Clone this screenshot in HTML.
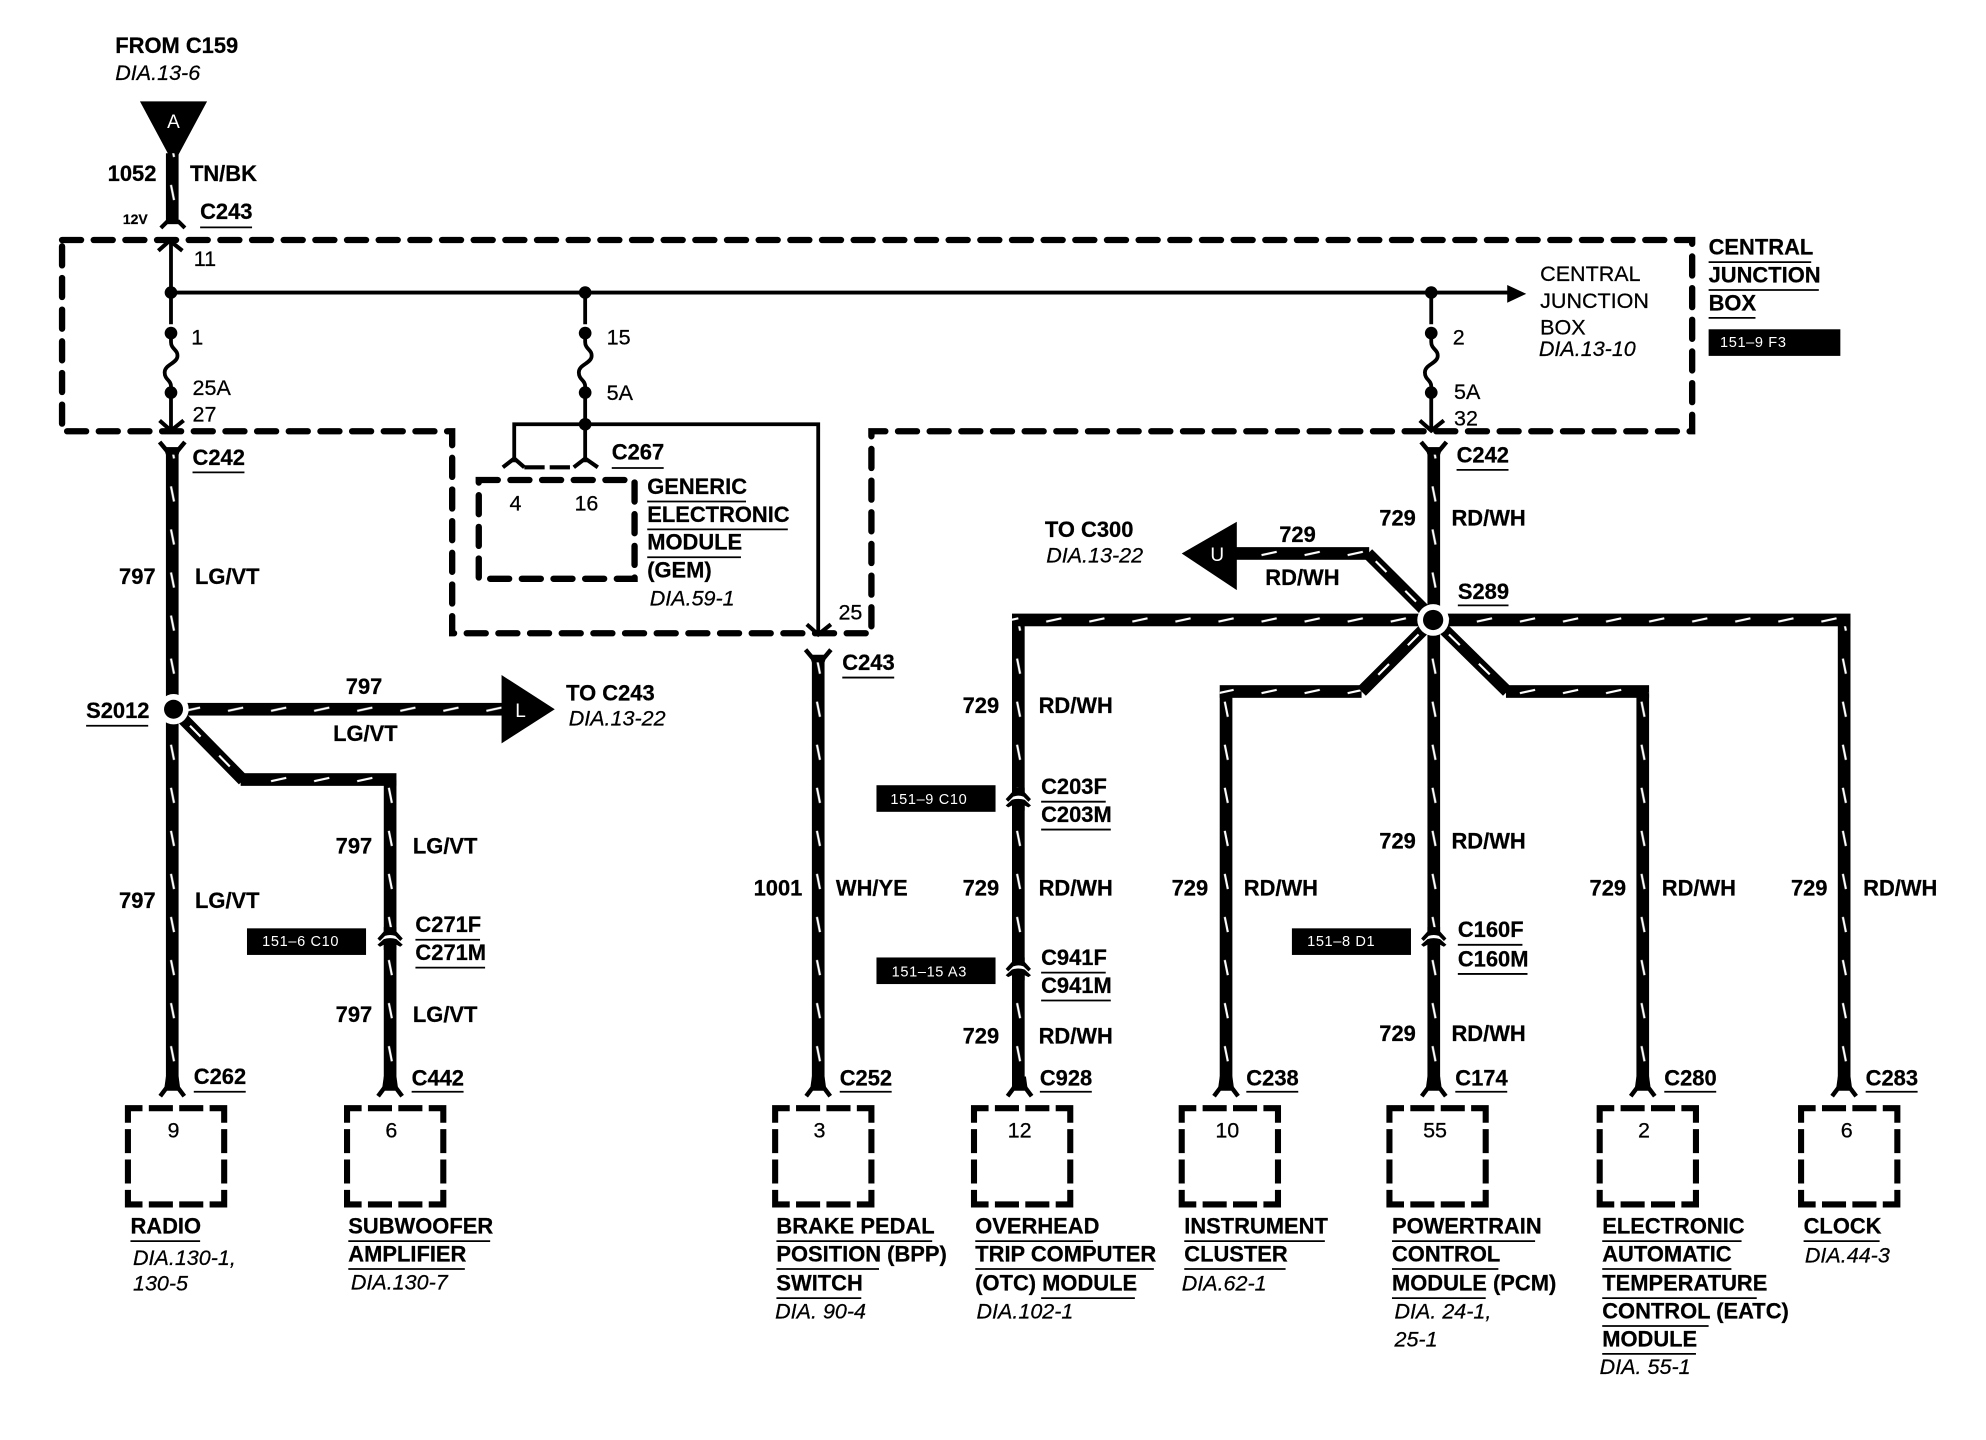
<!DOCTYPE html>
<html><head><meta charset="utf-8"><style>
html,body{margin:0;padding:0;background:#fff}
svg{display:block}
text{font-family:"Liberation Sans",sans-serif;font-size:17px;fill:#000;stroke:#000;stroke-width:.2}
text.b{font-weight:bold;font-size:17.3px}
text.i{font-style:italic}
text.t{fill:#fff;stroke:none;font-size:11.5px;letter-spacing:.5px}
text.w{fill:#fff;stroke:none;font-size:15px}
.d{fill:none;stroke:#000;stroke-width:5;stroke-dasharray:15 10;stroke-linecap:round;stroke-linejoin:miter}
.bx{fill:none;stroke:#000;stroke-width:4.8;stroke-dasharray:23 5 19 5 19 5;stroke-dashoffset:11.5}
.th{fill:none;stroke:#000;stroke-width:3}
.ul{stroke:#000;stroke-width:1.4}
.dg{fill:none;stroke:#000;stroke-width:9.5;stroke-linejoin:miter}
.dw{fill:none;stroke:#fff;stroke-width:1.7;stroke-dasharray:12 21}
</style></head><body>
<svg xmlns="http://www.w3.org/2000/svg" width="1986" height="1440" viewBox="0 0 1568 1137" preserveAspectRatio="none">
<defs>
<pattern id="v" patternUnits="userSpaceOnUse" x="-5" y="0" width="10" height="34">
<path d="M4,10 L6.4,22" stroke="#fff" stroke-width="1.7"/></pattern>
<pattern id="h" patternUnits="userSpaceOnUse" x="0" y="-5" width="34" height="10">
<path d="M10,6.300 L22,3.700" stroke="#fff" stroke-width="1.7"/></pattern>
<g id="vw">
<rect x="-5" y="121" width="10" height="56" transform="translate(136,0)"/>
<rect x="-5" y="355" width="10" height="505" transform="translate(136,0)"/>
<rect x="-5" y="616" width="10" height="244" transform="translate(308,0)"/>
<rect x="-5" y="518" width="10" height="342" transform="translate(646,0)"/>
<rect x="-5" y="489" width="10" height="371" transform="translate(804,0)"/>
<rect x="-5" y="546" width="10" height="314" transform="translate(968,0)"/>
<rect x="-5" y="355" width="10" height="505" transform="translate(1132,0)"/>
<rect x="-5" y="546" width="10" height="314" transform="translate(1297,0)"/>
<rect x="-5" y="489" width="10" height="371" transform="translate(1456,0)"/>
</g>
<g id="hw">
<rect x="137" y="-5" width="262" height="10" transform="translate(0,560)"/>
<rect x="190" y="-5" width="123" height="10" transform="translate(0,615.500)"/>
<rect x="799" y="-5" width="662" height="10" transform="translate(0,489.500)"/>
<rect x="976" y="-5" width="105" height="10" transform="translate(0,437)"/>
<rect x="963" y="-5" width="112" height="10" transform="translate(0,546)"/>
<rect x="1189" y="-5" width="113" height="10" transform="translate(0,546)"/>
</g>
<g id="fb"><path d="M-9.500,865.500 L-5,859.500 L5,859.500 L9.500,865.500" fill="none" stroke="#000" stroke-width="3.500"/><path d="M-5,850 L5,850 L6.500,861 L-6.500,861 Z" fill="#000"/></g>
<g id="ft"><path d="M-10,0 L-5,6 L5,6 L10,0" fill="none" stroke="#000" stroke-width="3.500"/><path d="M-5,10 L5,10 L7,4 L-7,4 Z" fill="#000"/></g>
<g id="cm"><rect x="-6" y="-2" width="12" height="4" fill="#fff"/>
<path d="M-5,-8 L-5,-4.500 L-10,1 L-8,3 L-4,-1 Q0,-2.500 4,-1 L8,3 L10,1 L5,-4.500 L5,-8 Z" fill="#000"/>
<path d="M-10,6 L-5,1.500 Q0,0 5,1.500 L10,6 L8,7.500 L5,6 L5,10 L-5,10 L-5,6 L-8,7.500 Z" fill="#000"/></g>
<path id="fz" d="M0,-47 L0,-40 C0,-34 6,-34 5,-28 C4,-23 -5,-22 -5,-16 C-5,-10 0,-10 0,-5 L0,0" fill="none" stroke="#000" stroke-width="3"/>
</defs>
<rect width="1568" height="1137" fill="#fff"/>

<!-- dashed junction box -->
<path class="d" d="M49,189.500 H1336 V340.500 H688 V500 H357 V340.500 H49 Z"/>

<!-- thin circuits -->
<path class="th" d="M135,190 V256 M135,310 V339 M135,231 H1192 M462,231 V256 M462,310 V365 M1130,231 V256 M1130,310 V339 M406,365 V335 H646 V500"/>
<use href="#fz" transform="translate(135,310)"/>
<use href="#fz" transform="translate(462,310)"/>
<use href="#fz" transform="translate(1130,310)"/>
<path d="M1190,225 L1205,232 L1190,239 Z" fill="#000"/>
<g fill="#000">
<circle cx="135" cy="231" r="5"/><circle cx="462" cy="231" r="5"/><circle cx="1130" cy="231" r="5"/>
<circle cx="135" cy="263" r="5"/><circle cx="462" cy="263" r="5"/><circle cx="1130" cy="263" r="5"/>
<circle cx="135" cy="310" r="5"/><circle cx="462" cy="310" r="5"/><circle cx="1130" cy="310" r="5"/>
<circle cx="462" cy="335" r="5"/>
</g>
<g fill="none" stroke="#000" stroke-width="3.200">
<path d="M125,198 L134,190 L144,198"/>
<path d="M126,332 L135,340 L145,332"/>
<path d="M1121,332 L1130,340 L1140,332"/>
<path d="M637,493 L646,501 L656,493"/>
<path d="M397,369 L406,362 L414,369"/>
<path d="M453,369 L462,362 L472,369"/>
<path d="M414,369 H452" stroke-dasharray="16 4"/>
</g>
<rect class="d" x="378" y="379" width="123" height="78"/>

<!-- triangle A -->
<path d="M110.500,80 H163.500 L141,122 H133 Z" fill="#000"/>
<text class="w" x="137" y="101" text-anchor="middle">A</text>

<!-- thick wires -->
<use href="#vw" fill="#000"/><use href="#vw" fill="url(#v)"/>
<use href="#hw" fill="#000"/><use href="#hw" fill="url(#h)"/>
<!-- diagonals -->
<path class="dg" d="M137,560 L192,616"/><path class="dw" d="M150,573 L190,614"/>
<path class="dg" d="M1132,489 L1080,437"/><path class="dw" d="M1118,475 L1082,439"/>
<path class="dg" d="M1132,489 L1075,546"/><path class="dw" d="M1120,501 L1077,544"/>
<path class="dg" d="M1132,489 L1190,546"/><path class="dw" d="M1144,501 L1188,544"/>

<!-- arrows -->
<path d="M396,533 L438,560 L396,587 Z" fill="#000"/>
<text class="w" x="411" y="566" text-anchor="middle">L</text>
<path d="M933,437 L976.500,412 V466 Z" fill="#000"/>
<text class="w" x="961" y="443" text-anchor="middle">U</text>

<!-- splices -->
<circle cx="137" cy="560" r="12" fill="#fff"/><circle cx="137" cy="560" r="7.500" fill="#000"/>
<circle cx="1131.500" cy="489.500" r="12.500" fill="#fff"/><circle cx="1131.500" cy="489.500" r="8" fill="#000"/>

<!-- forks -->
<path d="M127,180 L132,175 L141,175 L146,180" fill="none" stroke="#000" stroke-width="3.200"/>
<use href="#ft" transform="translate(136,349)"/>
<use href="#ft" transform="translate(1132,349)"/>
<use href="#ft" transform="translate(646,513)"/>
<use href="#fb" transform="translate(136,0)"/>
<use href="#fb" transform="translate(308,0)"/>
<use href="#fb" transform="translate(646,0)"/>
<use href="#fb" transform="translate(805,0)"/>
<use href="#fb" transform="translate(968,0)"/>
<use href="#fb" transform="translate(1132,0)"/>
<use href="#fb" transform="translate(1297,0)"/>
<use href="#fb" transform="translate(1456,0)"/>
<!-- inline connectors -->
<use href="#cm" transform="translate(308,740)"/>
<use href="#cm" transform="translate(804,630)"/>
<use href="#cm" transform="translate(804,764)"/>
<use href="#cm" transform="translate(1132,740)"/>

<!-- module boxes -->
<rect class="bx" x="101" y="875" width="76" height="76"/>
<rect class="bx" x="274" y="875" width="76" height="76"/>
<rect class="bx" x="612" y="875" width="76" height="76"/>
<rect class="bx" x="769" y="875" width="76" height="76"/>
<rect class="bx" x="933" y="875" width="76" height="76"/>
<rect class="bx" x="1097" y="875" width="76" height="76"/>
<rect class="bx" x="1263" y="875" width="76" height="76"/>
<rect class="bx" x="1422" y="875" width="76" height="76"/>

<!-- tags -->
<g fill="#000">
<rect x="195" y="733" width="94" height="21"/><rect x="692" y="620" width="94" height="21"/>
<rect x="692" y="756" width="94" height="21"/><rect x="1020" y="733" width="94" height="21"/>
<rect x="1349" y="260" width="104" height="21"/>
</g>
<text class="t" x="207" y="747">151–6 C10</text>
<text class="t" x="703" y="635">151–9 C10</text>
<text class="t" x="704" y="771">151–15 A3</text>
<text class="t" x="1032" y="747">151–8 D1</text>
<text class="t" x="1358" y="274">151–9 F3</text>

<!-- bold labels -->
<text class="b" x="91" y="42">FROM C159</text>
<text class="b" x="85" y="143">1052</text>
<text class="b" x="150" y="143">TN/BK</text>
<text class="b" x="97" y="177" style="font-size:11px">12V</text>
<text class="b" x="158" y="173">C243</text>
<text class="b" x="152" y="367">C242</text>
<text class="b" x="1150" y="365">C242</text>
<text class="b" x="483" y="363">C267</text>
<text class="b" x="665" y="529">C243</text>
<text class="b" x="511" y="390">GENERIC</text>
<text class="b" x="511" y="412">ELECTRONIC</text>
<text class="b" x="511" y="434">MODULE</text>
<text class="b" x="511" y="456">(GEM)</text>
<text class="b" x="1349" y="201">CENTRAL</text>
<text class="b" x="1349" y="223">JUNCTION</text>
<text class="b" x="1349" y="245">BOX</text>
<text class="b" x="94" y="461">797</text><text class="b" x="154" y="461">LG/VT</text>
<text class="b" x="94" y="717">797</text><text class="b" x="154" y="717">LG/VT</text>
<text class="b" x="68" y="567">S2012</text>
<text class="b" x="273" y="548">797</text><text class="b" x="263" y="585">LG/VT</text>
<text class="b" x="447" y="553">TO C243</text>
<text class="b" x="265" y="674">797</text><text class="b" x="326" y="674">LG/VT</text>
<text class="b" x="328" y="736">C271F</text><text class="b" x="328" y="758">C271M</text>
<text class="b" x="265" y="807">797</text><text class="b" x="326" y="807">LG/VT</text>
<text class="b" x="153" y="856">C262</text><text class="b" x="325" y="857">C442</text>
<text class="b" x="595" y="707">1001</text><text class="b" x="660" y="707">WH/YE</text>
<text class="b" x="663" y="857">C252</text>
<text class="b" x="825" y="424">TO C300</text>
<text class="b" x="1010" y="428">729</text><text class="b" x="999" y="462">RD/WH</text>
<text class="b" x="1089" y="415">729</text><text class="b" x="1146" y="415">RD/WH</text>
<text class="b" x="1151" y="473">S289</text>
<text class="b" x="760" y="563">729</text><text class="b" x="820" y="563">RD/WH</text>
<text class="b" x="822" y="627">C203F</text><text class="b" x="822" y="649">C203M</text>
<text class="b" x="760" y="707">729</text><text class="b" x="820" y="707">RD/WH</text>
<text class="b" x="822" y="762">C941F</text><text class="b" x="822" y="784">C941M</text>
<text class="b" x="760" y="824">729</text><text class="b" x="820" y="824">RD/WH</text>
<text class="b" x="821" y="857">C928</text>
<text class="b" x="925" y="707">729</text><text class="b" x="982" y="707">RD/WH</text>
<text class="b" x="984" y="857">C238</text>
<text class="b" x="1089" y="670">729</text><text class="b" x="1146" y="670">RD/WH</text>
<text class="b" x="1151" y="740">C160F</text><text class="b" x="1151" y="763">C160M</text>
<text class="b" x="1089" y="822">729</text><text class="b" x="1146" y="822">RD/WH</text>
<text class="b" x="1149" y="857">C174</text>
<text class="b" x="1255" y="707">729</text><text class="b" x="1312" y="707">RD/WH</text>
<text class="b" x="1314" y="857">C280</text>
<text class="b" x="1414" y="707">729</text><text class="b" x="1471" y="707">RD/WH</text>
<text class="b" x="1473" y="857">C283</text>

<text class="b" x="103" y="974">RADIO</text>
<text class="b" x="275" y="974">SUBWOOFER</text><text class="b" x="275" y="996">AMPLIFIER</text>
<text class="b" x="613" y="974">BRAKE PEDAL</text><text class="b" x="613" y="996">POSITION (BPP)</text><text class="b" x="613" y="1019">SWITCH</text>
<text class="b" x="770" y="974">OVERHEAD</text><text class="b" x="770" y="996">TRIP COMPUTER</text><text class="b" x="770" y="1019">(OTC) MODULE</text>
<text class="b" x="935" y="974">INSTRUMENT</text><text class="b" x="935" y="996">CLUSTER</text>
<text class="b" x="1099" y="974">POWERTRAIN</text><text class="b" x="1099" y="996">CONTROL</text><text class="b" x="1099" y="1019">MODULE (PCM)</text>
<text class="b" x="1265" y="974">ELECTRONIC</text><text class="b" x="1265" y="996">AUTOMATIC</text><text class="b" x="1265" y="1019">TEMPERATURE</text><text class="b" x="1265" y="1041">CONTROL (EATC)</text><text class="b" x="1265" y="1063">MODULE</text>
<text class="b" x="1424" y="974">CLOCK</text>

<!-- regular -->
<text x="153" y="210">11</text><text x="151" y="272">1</text><text x="152" y="312">25A</text><text x="152" y="333">27</text>
<text x="479" y="272">15</text><text x="479" y="316">5A</text>
<text x="1147" y="272">2</text><text x="1148" y="315">5A</text><text x="1148" y="336">32</text>
<text x="662" y="489">25</text>
<text x="407" y="403" text-anchor="middle">4</text><text x="463" y="403" text-anchor="middle">16</text>
<text x="1216" y="222">CENTRAL</text><text x="1216" y="243">JUNCTION</text><text x="1216" y="264">BOX</text>
<text x="137" y="898" text-anchor="middle">9</text><text x="309" y="898" text-anchor="middle">6</text>
<text x="647" y="898" text-anchor="middle">3</text><text x="805" y="898" text-anchor="middle">12</text>
<text x="969" y="898" text-anchor="middle">10</text><text x="1133" y="898" text-anchor="middle">55</text>
<text x="1298" y="898" text-anchor="middle">2</text><text x="1458" y="898" text-anchor="middle">6</text>

<!-- italic -->
<text class="i" x="91" y="63">DIA.13-6</text>
<text class="i" x="1215" y="281">DIA.13-10</text>
<text class="i" x="513" y="478">DIA.59-1</text>
<text class="i" x="449" y="573">DIA.13-22</text>
<text class="i" x="826" y="444">DIA.13-22</text>
<text class="i" x="105" y="999">DIA.130-1,</text><text class="i" x="105" y="1019">130-5</text>
<text class="i" x="277" y="1018">DIA.130-7</text>
<text class="i" x="612" y="1041">DIA. 90-4</text>
<text class="i" x="771" y="1041">DIA.102-1</text>
<text class="i" x="933" y="1019">DIA.62-1</text>
<text class="i" x="1101" y="1041">DIA. 24-1,</text><text class="i" x="1101" y="1063">25-1</text>
<text class="i" x="1263" y="1085">DIA. 55-1</text>
<text class="i" x="1425" y="997">DIA.44-3</text>

<!-- underlines -->
<path class="ul" d="M158,179.500h41 M152,373h41 M1150,371h41 M483,369.500h41 M665,535h41
M511,396h78 M511,418h111 M511,440h74
M1349,207h81 M1349,229h87 M1349,251h37
M68,573h49 M1151,478h40
M328,742h51 M328,764h55 M822,633h51 M822,655h55 M822,768h51 M822,790h55 M1151,746h51 M1151,769h55
M153,862h41 M325,862h41 M663,862h41 M821,862h41 M984,862h41 M1149,862h41 M1314,862h41 M1473,862h41
M103,980h55 M275,980h112 M275,1002h92
M613,980h123 M613,1002h81 M613,1025h67
M770,980h93 M770,1002h141 M822,1025h74
M935,980h111 M935,1002h80
M1099,980h113 M1099,1002h84 M1099,1025h74
M1265,980h110 M1265,1002h102 M1265,1025h122 M1265,1047h84 M1265,1069h74
M1424,980h60"/>
</svg>
</body></html>
